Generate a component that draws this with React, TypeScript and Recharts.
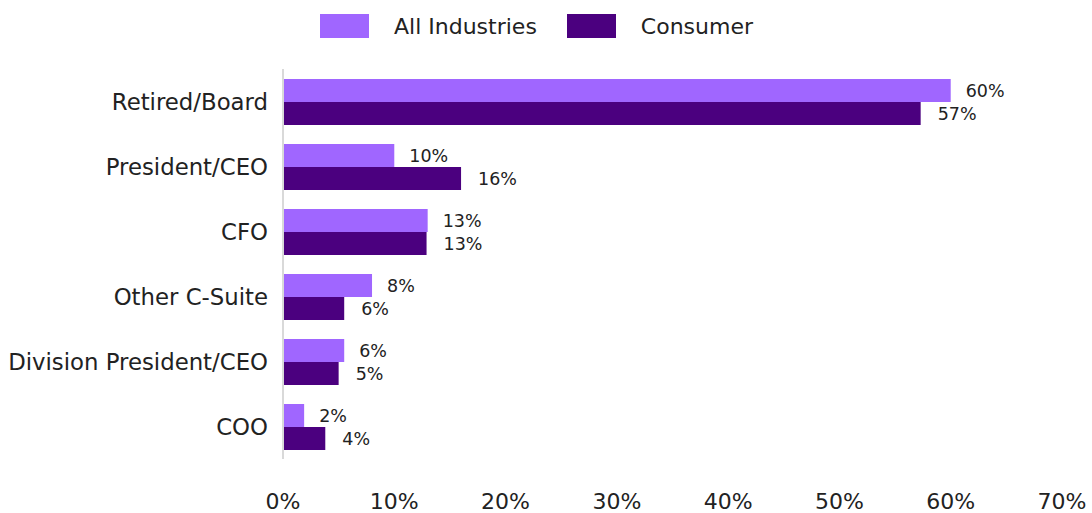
import React from 'react';
import { BarChart, Bar, XAxis, YAxis, Legend, LabelList } from 'recharts';

const categories = ['Retired/Board', 'President/CEO', 'CFO', 'Other C-Suite', 'Division President/CEO', 'COO'];
const allIndustries = [60, 10, 13, 8, 5.5, 1.9];
const consumer = [57.3, 16, 12.9, 5.5, 5, 3.8];
const xTicks = [0, 10, 20, 30, 40, 50, 60, 70];

const data = categories.map((name, i) => ({
  name,
  all: allIndustries[i],
  consumer: consumer[i],
}));

const FONT = '"DejaVu Sans", sans-serif';
const TEXT = '#222222';

const pct = (v: any) => `${Math.round(Number(v))}%`;

const LegendContent = (props: any) => {
  const { payload = [] } = props;
  return (
    <div
      style={{
        display: 'flex',
        alignItems: 'center',
        height: 52,
        paddingLeft: 320,
        fontFamily: FONT,
        fontSize: 22,
        color: TEXT,
      }}
    >
      {payload.map((entry: any) => (
        <div key={entry.value} style={{ display: 'flex', alignItems: 'center', marginRight: 30 }}>
          <span style={{ width: 49, height: 24, background: entry.color, display: 'inline-block', marginRight: 25 }} />
          <span>{entry.value}</span>
        </div>
      ))}
    </div>
  );
};

const App: React.FC = () => {
  return (
    <div style={{ position: 'absolute', left: 0, top: 0 }}>
      <BarChart
        width={1092}
        height={513}
        data={data}
        layout="vertical"
        margin={{ top: 17, right: 30, bottom: 0, left: 0 }}
        barGap={0}
        barCategoryGap="15%"
      >
        <Legend verticalAlign="top" content={<LegendContent />} wrapperStyle={{ top: 0, left: 0, width: 1092 }} />
        <XAxis
          type="number"
          domain={[0, 70]}
          ticks={xTicks}
          tickFormatter={pct}
          axisLine={false}
          tickLine={false}
          tickSize={0}
          tickMargin={34}
          height={54}
          interval={0}
          tick={{ fill: TEXT, fontSize: 22, fontFamily: FONT }}
        />
        <YAxis
          type="category"
          dataKey="name"
          width={283}
          tickLine={false}
          tickSize={0}
          tickMargin={15}
          axisLine={{ stroke: '#d9d9d9', strokeWidth: 2 }}
          interval={0}
          tick={{ fill: TEXT, fontSize: 22.8, fontFamily: FONT }}
        />
        <Bar dataKey="all" name="All Industries" fill="#a066ff" barSize={23} isAnimationActive={false}>
          <LabelList dataKey="all" position="right" offset={15} formatter={pct} style={{ fill: TEXT, fontSize: 17.5, fontFamily: FONT }} />
        </Bar>
        <Bar dataKey="consumer" name="Consumer" fill="#4b007f" barSize={23} isAnimationActive={false}>
          <LabelList dataKey="consumer" position="right" offset={17} formatter={pct} style={{ fill: TEXT, fontSize: 17.5, fontFamily: FONT }} />
        </Bar>
      </BarChart>
    </div>
  );
};

export default App;
